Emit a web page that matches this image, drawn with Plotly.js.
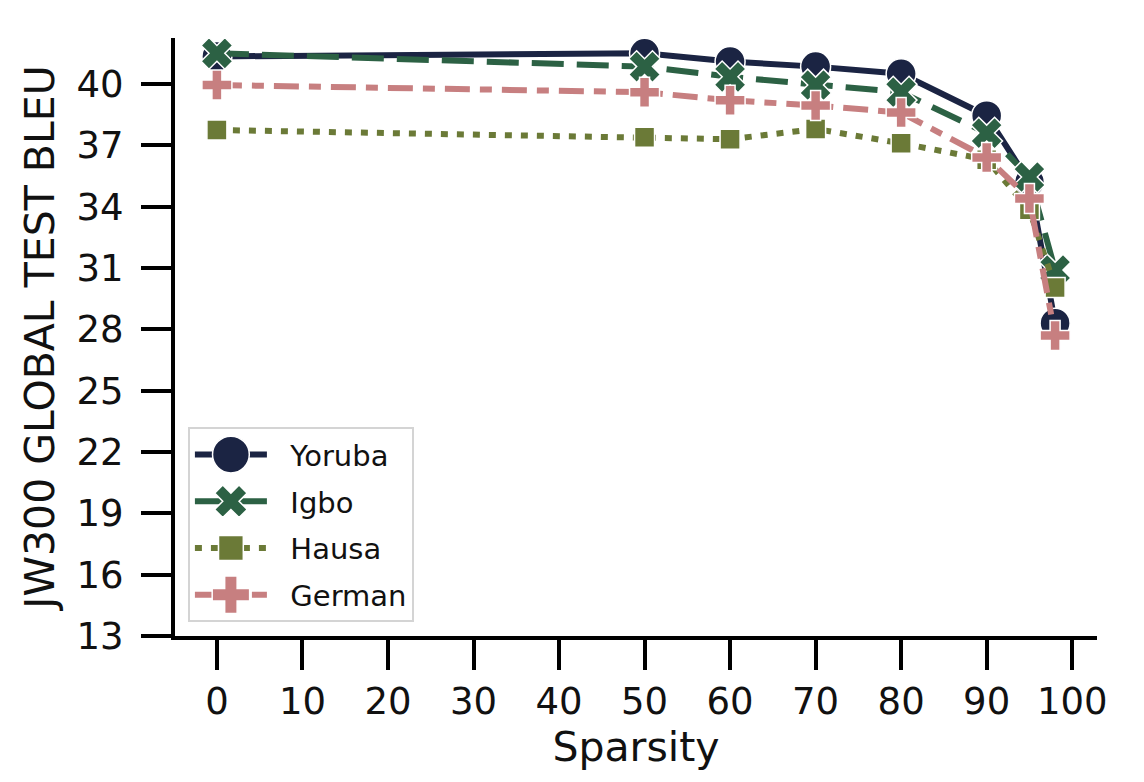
<!DOCTYPE html>
<html>
<head>
<meta charset="utf-8">
<script src="https://cdn.plot.ly/plotly-3.0.1.min.js"></script>
<style>html,body{margin:0;padding:0;background:#fff;}#chart{width:1144px;height:782px;}</style>
</head>
<body>
<div id="chart"></div>
<script>
const sparsity = [0, 50, 60, 70, 80, 90, 95, 98];
const yoruba = [41.35, 41.5, 41.1, 40.85, 40.5, 38.45, 35.2, 28.3];
const igbo   = [41.5, 40.85, 40.35, 39.95, 39.6, 37.6, 35.45, 30.9];
const hausa  = [37.75, 37.4, 37.3, 37.8, 37.1, 36.3, 33.85, 30.05];
const german = [39.95, 39.6, 39.2, 38.95, 38.6, 36.4, 34.4, 27.7];
const xTicks = [0, 10, 20, 30, 40, 50, 60, 70, 80, 90, 100];
const yTicks = [13, 16, 19, 22, 25, 28, 31, 34, 37, 40];

const series = [
  {name: 'Yoruba', y: yoruba, color: '#1b2443', dash: 'solid', symbol: 'circle', size: 30, legScale: 2.3},
  {name: 'Igbo', y: igbo, color: '#2c6144', dash: '32px,13px', symbol: 'x', size: 28, legScale: 1.8},
  {name: 'Hausa', y: hausa, color: '#6b7a37', dash: '7px,9px', symbol: 'square', size: 20, legScale: 1.55},
  {name: 'German', y: german, color: '#c77f80', dash: '25px,10px,12px,10px', symbol: 'cross', size: 25, legScale: 1.95}
];

const traces = series.map((s, i) => ({
  type: 'scatter', mode: 'lines+markers', name: '\u00a0\u00a0' + s.name, x: sparsity, y: s.y,
  legendgroup: 'g' + i,
  line: {color: s.color, width: 6, dash: s.dash},
  marker: {symbol: s.symbol, size: s.size, color: s.color, line: {color: '#ffffff', width: 1.5}}
}));

const font = 'DejaVu Sans, sans-serif';
const layout = {
  width: 1144, height: 782,
  margin: {l: 175, r: 47, t: 38, b: 146},
  paper_bgcolor: '#ffffff', plot_bgcolor: '#ffffff',
  font: {family: font, color: '#111111'},
  showlegend: true,
  legend: {
    x: 0.014, y: 0.023, xanchor: 'left', yanchor: 'bottom',
    bgcolor: '#ffffff', bordercolor: '#d4d4d4', borderwidth: 2,
    font: {family: font, size: 29, color: '#111111'},
    itemwidth: 72, tracegroupgap: 6, traceorder: 'grouped'
  },
  xaxis: {
    range: [-4.9, 102.9], tickmode: 'array', tickvals: xTicks, ticktext: xTicks.map(String),
    showgrid: false, zeroline: false, showline: true, linecolor: '#000000', linewidth: 4,
    ticks: 'outside', ticklen: 30, tickwidth: 4, tickcolor: '#000000',
    tickfont: {family: font, size: 37, color: '#111111'},
    title: {text: 'Sparsity', font: {family: font, size: 41, color: '#111111'}, standoff: 8}
  },
  yaxis: {
    range: [13, 42.25], tickmode: 'array', tickvals: yTicks, ticktext: yTicks.map(String),
    showgrid: false, zeroline: false, showline: true, linecolor: '#000000', linewidth: 4,
    ticks: 'outside', ticklen: 30, tickwidth: 4, tickcolor: '#000000',
    ticklabelstandoff: 10,
    tickfont: {family: font, size: 37, color: '#111111'},
    title: {text: 'JW300 GLOBAL TEST BLEU', font: {family: font, size: 41, color: '#111111'}, standoff: 10}
  }
};

function enlargeLegendMarkers() {
  const groups = document.querySelectorAll('#chart .legend .traces');
  groups.forEach((g, i) => {
    const s = series[i];
    if (!s) return;
    g.querySelectorAll('.legendpoints path.scatterpts').forEach(p => {
      const t = p.getAttribute('transform') || '';
      if (t.indexOf('scale') < 0) p.setAttribute('transform', t + ' scale(' + s.legScale + ')');
      p.style.strokeWidth = (1.5 / s.legScale) + 'px';
    });
  });
}

Plotly.newPlot('chart', traces, layout, {displayModeBar: false, staticPlot: true}).then(enlargeLegendMarkers);
</script>
</body>
</html>
